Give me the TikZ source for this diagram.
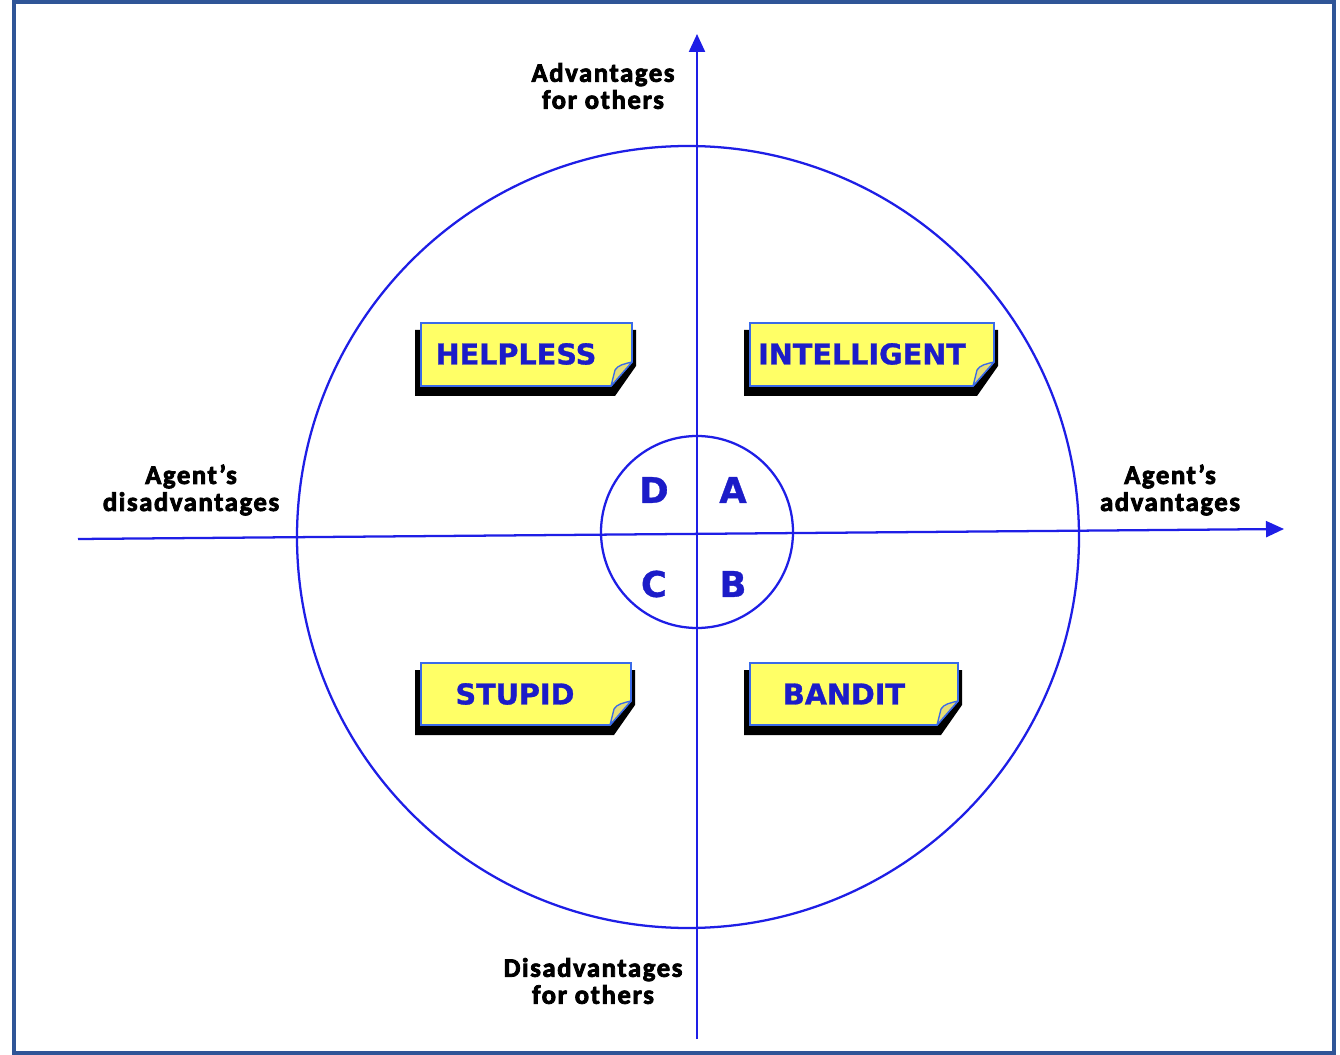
\documentclass[tikz,border=0pt]{standalone}
\usepackage{fontspec}
\setmainfont{Carlito}
\newfontfamily\lblfont{Carlito Bold}[FakeBold=3, LetterSpace=6]
\newfontfamily\boxfont{DejaVu Sans Bold}[FakeBold=1]
\usetikzlibrary{arrows.meta}
\definecolor{frameblue}{HTML}{2F5597}
\definecolor{lineblue}{HTML}{1E1EE6}
\definecolor{txtblue}{HTML}{1C1CC8}
\definecolor{noteyellow}{HTML}{FFFF66}
\definecolor{noteedge}{HTML}{3A6AE8}
\definecolor{flap}{HTML}{E6DE74}
\tikzset{
  axis/.style={draw=lineblue, line width=1.7pt},
  ring/.style={draw=lineblue, line width=1.7pt},
  lbl/.style={font=\lblfont\fontsize{20pt}{20.25pt}\selectfont, text=black, align=center, inner sep=0pt},
  notetext/.style={font=\boxfont\fontsize{21.5pt}{24pt}\selectfont, text=txtblue, inner sep=0pt},
  letter/.style={font=\boxfont\fontsize{26.5pt}{30pt}\selectfont, text=txtblue, inner sep=0pt},
  notefill/.style={fill=noteyellow, draw=noteedge, line width=1.3pt},
  shadowfill/.style={fill=black},
  flapfill/.style={fill=flap, draw=noteedge, line width=1pt, line join=round},
}
% #1 x0, #2 y0, #3 x1, #4 y1
\newcommand{\notebox}[4]{%
  \fill[shadowfill] (#1-6,#2+7) -- (#3+4,#2+7) -- (#3+4,#4-20) -- (#3-17,#4+10) -- (#1-6,#4+10) -- cycle;
  \draw[notefill] (#1,#2) -- (#3,#2) -- (#3,#4-24) -- (#3-21,#4) -- (#1,#4) -- cycle;
  \draw[flapfill] (#3,#4-24) .. controls (#3-8,#4-22) and (#3-14,#4-21) .. (#3-17,#4-16) -- (#3-21,#4) -- cycle;
}
\begin{document}
\begin{tikzpicture}[x=0.75pt, y=-0.75pt]
\useasboundingbox (0,0) rectangle (1340,1055);
\fill[white] (0,0) rectangle (1340,1055);
\draw[frameblue, line width=3pt] (14,2) rectangle (1334,1053);

% circles
\node[ring, circle, minimum size=782*0.75pt, inner sep=0pt] (outer) at (688,537) {};
\node[ring, circle, minimum size=192*0.75pt, inner sep=0pt] (inner) at (697,532) {};

% axes
\coordinate (xl) at (78,539);
\coordinate (xr) at (1284,529);
\coordinate (yb) at (697,1039);
\coordinate (yt) at (697,34);
\draw[axis, -{Triangle[length=13.5pt, width=12pt]}] (xl) -- (xr);
\draw[axis, -{Triangle[length=13.5pt, width=12pt]}] (yb) -- (yt);

% axis labels
\node[lbl] (advo) at (603,86) {Advantages\\for others};
\node[lbl] (disadvo) at (593,981) {Disadvantages\\for others};
\node[lbl] (agdis) at (191,490) {Agent’s\\disadvantages};
\node[lbl] (agadv) at (1170,490) {Agent’s\\advantages};

% quadrant letters
\node[letter] (D) at (654,490) {D};
\node[letter] (A) at (733,490) {A};
\node[letter] (C) at (654,584) {C};
\node[letter] (B) at (733,584) {B};

% note boxes
\notebox{421}{323}{632}{386}
\notebox{750}{323}{994}{386}
\notebox{421}{663}{631}{725}
\notebox{750}{663}{958}{725}
\node[notetext] (helpless) at (516,354) {HELPLESS};
\node[notetext] (intelligent) at (862,354) {INTELLIGENT};
\node[notetext] (stupid) at (515,694) {STUPID};
\node[notetext] (bandit) at (844,694) {BANDIT};
\end{tikzpicture}
\end{document}
